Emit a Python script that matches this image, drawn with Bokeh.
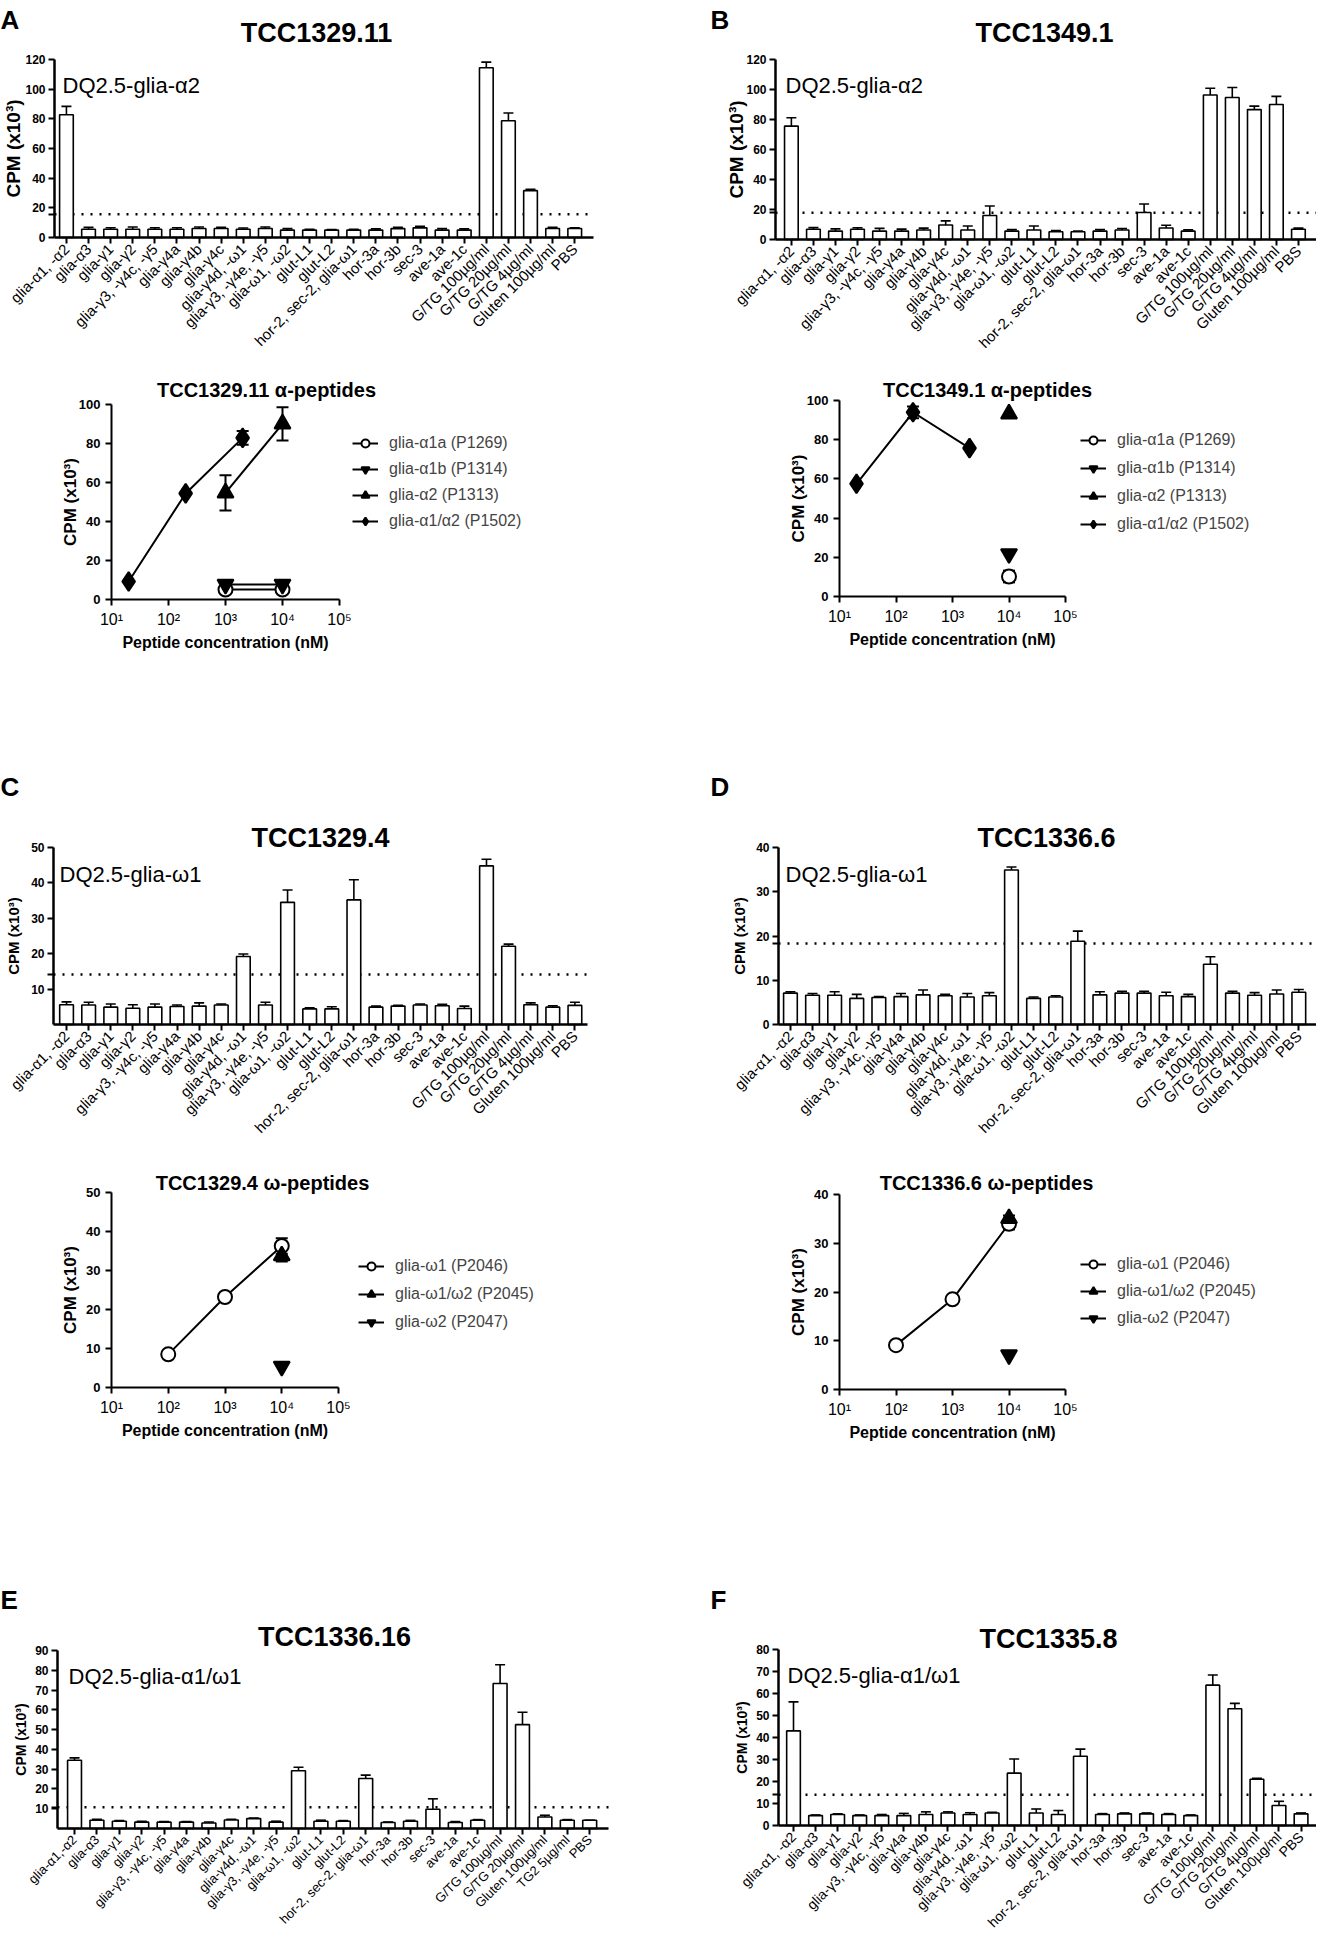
import math
from bokeh.plotting import figure
from bokeh.models import (Range1d, FixedTicker, Whisker, TeeHead, Label,
                          Legend, LegendItem, ColumnDataSource)
from bokeh.layouts import row, column
from bokeh.embed import file_html
from bokeh.resources import INLINE

FONT = "Liberation Sans"

# ---------------- data ----------------
CATS = ["glia-α1, -α2", "glia-α3", "glia-γ1", "glia-γ2", "glia-γ3, -γ4c, -γ5",
        "glia-γ4a", "glia-γ4b", "glia-γ4c", "glia-γ4d, -ω1", "glia-γ3, -γ4e, -γ5",
        "glia-ω1, -ω2", "glut-L1", "glut-L2", "hor-2, sec-2, glia-ω1", "hor-3a",
        "hor-3b", "sec-3", "ave-1a", "ave-1c", "G/TG 100µg/ml", "G/TG 20µg/ml",
        "G/TG 4µg/ml", "Gluten 100µg/ml", "PBS"]
CATS_E = ["glia-α1,-α2", "glia-α3", "glia-γ1", "glia-γ2", "glia-γ3, -γ4c, -γ5",
          "glia-γ4a", "glia-γ4b", "glia-γ4c", "glia-γ4d, -ω1", "glia-γ3, -γ4e, -γ5",
          "glia-ω1, -ω2", "glut-L1", "glut-L2", "hor-2, sec-2, glia-ω1", "hor-3a",
          "hor-3b", "sec-3", "ave-1a", "ave-1c", "G/TG 100µg/ml", "G/TG 20µg/ml",
          "Gluten 100µg/ml", "TG2 5µg/ml", "PBS"]

A_vals = [82.8, 5.6, 5.6, 5.6, 5.6, 5.6, 6.1, 6.1, 5.6, 6.1, 5.0, 5.0, 5.0, 5.0, 5.0, 6.0, 6.5, 5.0, 5.0, 114.4, 78.7, 31.6, 6.1, 6.1]
A_err = [5.6, 1.2, 1.0, 1.5, 1.0, 1.0, 1.0, 0.8, 0.8, 1.0, 1.0, 0.5, 0.3, 0.5, 0.8, 0.8, 1.0, 1.0, 0.8, 3.8, 5.2, 0.9, 0.8, 0.5]
A_thr = 15.6

B_vals = [75.6, 6.8, 5.6, 6.8, 5.6, 5.6, 6.3, 9.7, 6.3, 16.0, 5.6, 6.3, 5.2, 5.2, 5.6, 6.3, 18.0, 7.7, 5.6, 96.3, 94.7, 86.6, 90.0, 6.8]
B_err = [5.6, 1.1, 1.5, 1.0, 1.8, 1.3, 1.3, 2.7, 2.7, 6.3, 1.0, 2.7, 0.8, 0.5, 1.0, 1.0, 5.7, 1.8, 0.8, 4.5, 6.6, 2.3, 5.4, 0.8]
B_thr = 17.8

C_vals = [5.6, 5.5, 4.9, 4.6, 4.9, 5.1, 5.2, 5.5, 19.2, 5.5, 34.5, 4.4, 4.4, 35.2, 4.9, 5.2, 5.5, 5.3, 4.5, 44.8, 22.1, 5.6, 4.9, 5.4]
C_err = [0.8, 0.8, 0.9, 1.0, 0.9, 0.4, 0.9, 0.3, 0.7, 0.8, 3.5, 0.3, 0.6, 5.7, 0.3, 0.2, 0.3, 0.4, 0.7, 1.9, 0.6, 0.5, 0.4, 0.9]
C_thr = 14.1

D_vals = [7.1, 6.6, 6.6, 5.9, 6.1, 6.3, 6.7, 6.5, 6.2, 6.5, 34.9, 5.9, 6.2, 18.8, 6.7, 7.1, 7.1, 6.5, 6.3, 13.6, 7.1, 6.6, 6.9, 7.3]
D_err = [0.3, 0.4, 0.8, 0.9, 0.2, 0.7, 1.1, 0.3, 0.8, 0.7, 0.7, 0.3, 0.3, 2.3, 0.7, 0.4, 0.4, 0.8, 0.5, 1.7, 0.4, 0.6, 0.9, 0.6]
D_thr = 18.3

E_vals = [34.5, 4.2, 3.7, 3.2, 3.2, 3.2, 2.8, 4.3, 5.0, 3.2, 29.2, 3.7, 3.7, 25.3, 3.0, 3.7, 9.7, 3.0, 4.2, 73.3, 52.5, 5.8, 4.2, 4.2]
E_err = [1.2, 0.4, 0.3, 0.5, 0.3, 0.3, 0.5, 0.3, 0.3, 0.5, 1.8, 0.5, 0.3, 1.7, 0.3, 0.4, 5.3, 0.5, 0.3, 9.5, 6.3, 0.9, 0.3, 0.0]
E_thr = 10.7

F_vals = [43.0, 4.5, 5.0, 4.5, 4.5, 4.5, 5.0, 5.7, 5.0, 5.7, 23.8, 5.7, 5.0, 31.5, 5.0, 5.3, 5.3, 5.0, 4.5, 63.8, 53.1, 21.0, 9.1, 5.3]
F_err = [13.2, 0.3, 0.3, 0.3, 0.5, 1.0, 1.2, 0.5, 0.8, 0.3, 6.4, 1.8, 1.8, 3.2, 0.4, 0.4, 0.4, 0.4, 0.3, 4.6, 2.4, 0.4, 1.9, 0.4]
F_thr = 14.0

# dose-response panels (concentration nM, CPM x10^3, SEM)
LA_a1a_x, LA_a1a_y, LA_a1a_e = [1000, 10000], [5.1, 5.1], [0, 0]
LA_a1b_x, LA_a1b_y, LA_a1b_e = [1000, 10000], [7.7, 7.7], [0, 0]
LA_a2_x, LA_a2_y, LA_a2_e = [1000, 10000], [54.7, 90.1], [9.0, 8.5]
LA_a12_x, LA_a12_y, LA_a12_e = [20, 200, 2000], [9.2, 54.4, 82.9], [0, 0, 3.5]

LB_a1a_x, LB_a1a_y, LB_a1a_e = [10000], [10.2], [3.0]
LB_a1b_x, LB_a1b_y, LB_a1b_e = [10000], [21.8], [0]
LB_a2_x, LB_a2_y, LB_a2_e = [10000], [93.2], [0]
LB_a12_x, LB_a12_y, LB_a12_e = [20, 200, 2000], [57.5, 94.0, 75.7], [0, 3.0, 0]

LC_w1_x, LC_w1_y, LC_w1_e = [100, 1000, 10000], [8.5, 23.2, 36.3], [0, 0, 2.0]
LC_w12_x, LC_w12_y, LC_w12_e = [10000], [33.8], [1.5]
LC_w2_x, LC_w2_y, LC_w2_e = [10000], [5.4], [0]

LD_w1_x, LD_w1_y, LD_w1_e = [100, 1000, 10000], [9.1, 18.5, 34.0], [0, 0, 1.2]
LD_w12_x, LD_w12_y, LD_w12_e = [10000], [35.1], [0.6]
LD_w2_x, LD_w2_y, LD_w2_e = [10000], [7.1], [0]

LOG_TICKS = [10, 100, 1000, 10000, 100000]
LOG_LABELS = ["10¹", "10²", "10³", "10⁴", "10⁵"]
Y_LABEL = "CPM (x10³)"
X_LABEL = "Peptide concentration (nM)"


def ranges(ox, oy, w, h, fl, fr, ft, fb, x0, x1, y0, y1):
    """Data ranges so that the whole canvas is the frame and the axes sit at fl..fr / fb..ft."""
    kx = (x1 - x0) / (fr - fl)
    ky = (y1 - y0) / (fb - ft)
    xr = (x0 - (fl - ox) * kx, x1 + (ox + w - fr) * kx)
    yr = (y0 - (oy + h - fb) * ky, y1 + (ft - oy) * ky)
    return xr, yr


class Panel:
    def __init__(self, ox, oy, w, h, **kw):
        self.ox, self.oy, self.w, self.h = ox, oy, w, h
        self.p = figure(width=w, height=h, output_backend="svg", toolbar_location=None,
                        min_border=0, min_border_left=0, min_border_right=0,
                        min_border_top=0, min_border_bottom=0, **kw)
        p = self.p
        p.outline_line_color = None
        p.grid.visible = False
        p.background_fill_color = "white"
        p.border_fill_color = "white"
        for ax in p.axis:
            ax.axis_line_color = "black"
            ax.major_tick_line_color = "black"
            ax.minor_tick_line_color = None
            ax.major_tick_in = 0
            ax.major_tick_out = 6
            ax.major_label_text_font = FONT
            ax.major_label_text_color = "black"
            ax.axis_label = None

    def text(self, ax, ay, text, size, style="normal", align="left", baseline="alphabetic", angle=0.0):
        self.p.add_layout(Label(x=ax - self.ox, y=self.oy + self.h - ay,
                                x_units="screen", y_units="screen", angle=angle,
                                text=text, text_font=FONT, text_font_size=f"{size}px",
                                text_font_style=style, text_align=align,
                                text_baseline=baseline, text_color="black"))


def bar_panel(ox, oy, w, h, fl, fr, ft, fb, xb, ymax, yticks, cats, vals, errs, thr,
              title, tcx, tcy, letter, lx, ly, dq, dqx, dqy, ylx, ylsize, xlsize=15):
    xr, yr = ranges(ox, oy, w, h, fl, fr, ft, fb, xb[0], xb[1], 0, ymax)
    P = Panel(ox, oy, w, h, x_range=Range1d(*xr), y_range=Range1d(*yr))
    p = P.p
    xs = list(range(len(cats)))
    # threshold (dotted) line across the axis extent
    p.segment(x0=[xb[0]], x1=[xb[1]], y0=[thr], y1=[thr], line_color="black",
              line_width=2.5, line_dash="2 7", level="underlay")
    src = ColumnDataSource(dict(x=xs, top=vals, up=[v + e for v, e in zip(vals, errs)]))
    p.add_layout(Whisker(source=src, base="x", lower="top", upper="up", dimension="height",
                         line_color="black", line_width=1.6,
                         upper_head=TeeHead(size=10, line_color="black", line_width=1.6),
                         lower_head=None))
    p.vbar(x="x", top="top", width=0.62, source=src, fill_color="white",
           line_color="black", line_width=1.6)
    p.xaxis.fixed_location = 0
    p.xaxis.bounds = (xb[0], xb[1])
    p.xaxis.ticker = FixedTicker(ticks=xs)
    p.xaxis.major_label_overrides = {i: c for i, c in enumerate(cats)}
    p.xaxis.major_label_orientation = math.pi / 4
    p.xaxis.major_label_text_font_size = f"{xlsize}px"
    p.xaxis.major_label_standoff = 3
    p.yaxis.fixed_location = xb[0]
    p.yaxis.bounds = (0, ymax)
    p.yaxis.ticker = FixedTicker(ticks=list(yticks) + [thr])
    p.yaxis.major_label_overrides = {thr: ""}
    p.yaxis.major_label_text_font_size = "12px"
    p.yaxis.major_label_text_font_style = "bold"
    p.yaxis.major_label_standoff = 3
    for ax in p.axis:
        ax.axis_line_width = 2.5
        ax.major_tick_line_width = 2
    P.text(ylx, (ft + fb) / 2, Y_LABEL, ylsize, "bold", "center", "middle", math.pi / 2)
    P.text(tcx, tcy, title, 27, "bold", "center", "alphabetic")
    P.text(lx, ly, letter, 26, "bold", "left", "alphabetic")
    P.text(dqx, dqy, dq, 22, "normal", "left", "alphabetic")
    return p


MARKER_SIZE = {"circle": 14, "inverted_triangle": 16, "triangle": 16, "diamond": 19}


def line_panel(ox, oy, w, h, fl, fr, ft, fb, ymax, yticks, series, title, tcx, tcy,
               leg_x, leg_y, leg_spacing):
    xr, yr = ranges(ox, oy, w, h, fl, fr, ft, fb, 1.0, 5.0, 0, ymax)
    P = Panel(ox, oy, w, h, x_axis_type="log",
              x_range=Range1d(10 ** xr[0], 10 ** xr[1]), y_range=Range1d(*yr))
    p = P.p
    items = []
    for name, marker, xs, ys, es in series:
        src = ColumnDataSource(dict(x=xs, y=ys))
        lr = p.line("x", "y", source=src, line_color="black", line_width=2)
        ex = [x for x, e in zip(xs, es) if e > 0]
        if ex:
            esrc = ColumnDataSource(dict(
                x=ex,
                lo=[y - e for y, e in zip(ys, es) if e > 0],
                hi=[y + e for y, e in zip(ys, es) if e > 0]))
            p.add_layout(Whisker(source=esrc, base="x", lower="lo", upper="hi",
                                 dimension="height", line_color="black", line_width=2,
                                 upper_head=TeeHead(size=12, line_color="black", line_width=2),
                                 lower_head=TeeHead(size=12, line_color="black", line_width=2)))
        sr = p.scatter("x", "y", source=src, marker=marker, size=MARKER_SIZE[marker],
                       fill_color="white" if marker == "circle" else "black",
                       line_color="black", line_width=2)
        items.append(LegendItem(label=name, renderers=[lr, sr]))
    leg = Legend(items=items, location=(leg_x, leg_y), label_text_font=FONT,
                 label_text_font_size="16px", glyph_width=26, glyph_height=20,
                 label_height=20, spacing=leg_spacing, padding=0, margin=0,
                 label_standoff=11, border_line_color=None, background_fill_alpha=0)
    p.add_layout(leg)
    p.xaxis.fixed_location = 0
    p.xaxis.bounds = (10, 100000)
    p.xaxis.ticker = FixedTicker(ticks=LOG_TICKS, minor_ticks=[])
    p.xaxis.major_label_overrides = {t: l for t, l in zip(LOG_TICKS, LOG_LABELS)}
    p.xaxis.major_label_text_font_size = "16px"
    p.yaxis.fixed_location = 10
    p.yaxis.bounds = (0, ymax)
    p.yaxis.ticker = FixedTicker(ticks=yticks)
    p.yaxis.major_label_text_font_size = "13px"
    p.yaxis.major_label_text_font_style = "bold"
    for ax in p.axis:
        ax.axis_line_width = 2
        ax.major_tick_line_width = 2
    P.text(fl - 41, (ft + fb) / 2, Y_LABEL, 17, "bold", "center", "middle", math.pi / 2)
    P.text((fl + fr) / 2, fb + 43, X_LABEL, 16, "bold", "center", "middle")
    P.text(tcx, tcy, title, 20, "bold", "center", "alphabetic")
    return p


W = 658
# Row 1: bar panels A, B   (row spans y 8..360)
pA = bar_panel(8, 8, W, 352, 62, 601, 67, 245, (-0.54, 23.85), 120, [0, 20, 40, 60, 80, 100, 120],
               CATS, A_vals, A_err, A_thr, "TCC1329.11", 324, 40, "A", 8, 27,
               "DQ2.5-glia-α2", 70, 93, 21, 19)
pB = bar_panel(666, 8, W, 352, 783, 1324, 67, 247, (-0.72, 23.82), 120, [0, 20, 40, 60, 80, 100, 120],
               CATS, B_vals, B_err, B_thr, "TCC1349.1", 1052, 40, "B", 718, 27,
               "DQ2.5-glia-α2", 793, 93, 744, 19)

# Row 2: dose response A, B   (y 360..770)
alpha_A = [("glia-α1a (P1269)", "circle", LA_a1a_x, LA_a1a_y, LA_a1a_e),
           ("glia-α1b (P1314)", "inverted_triangle", LA_a1b_x, LA_a1b_y, LA_a1b_e),
           ("glia-α2 (P1313)", "triangle", LA_a2_x, LA_a2_y, LA_a2_e),
           ("glia-α1/α2 (P1502)", "diamond", LA_a12_x, LA_a12_y, LA_a12_e)]
alpha_B = [("glia-α1a (P1269)", "circle", LB_a1a_x, LB_a1a_y, LB_a1a_e),
           ("glia-α1b (P1314)", "inverted_triangle", LB_a1b_x, LB_a1b_y, LB_a1b_e),
           ("glia-α2 (P1313)", "triangle", LB_a2_x, LB_a2_y, LB_a2_e),
           ("glia-α1/α2 (P1502)", "diamond", LB_a12_x, LB_a12_y, LB_a12_e)]
pAl = line_panel(8, 360, W, 410, 119, 347, 412, 607, 100, [0, 20, 40, 60, 80, 100], alpha_A,
                 "TCC1329.11 α-peptides", 274, 397, 352, 231, 6)
pBl = line_panel(666, 360, W, 410, 847, 1073, 408, 604, 100, [0, 20, 40, 60, 80, 100], alpha_B,
                 "TCC1349.1 α-peptides", 995, 397, 422, 228, 8)

# Row 3: bar panels C, D   (y 770..1150)
pC = bar_panel(8, 770, W, 380, 61, 595, 855, 1032, (-0.59, 23.57), 50, [10, 20, 30, 40, 50],
               CATS, C_vals, C_err, C_thr, "TCC1329.4", 328, 845, "C", 8, 794,
               "DQ2.5-glia-ω1", 67, 882, 21, 15)
pD = bar_panel(666, 770, W, 380, 786, 1324, 855, 1032, (-0.54, 23.8), 40, [0, 10, 20, 30, 40],
               CATS, D_vals, D_err, D_thr, "TCC1336.6", 1054, 845, "D", 718, 794,
               "DQ2.5-glia-ω1", 793, 882, 747, 15)

# Row 4: dose response C, D   (y 1150..1560)
omega_C = [("glia-ω1 (P2046)", "circle", LC_w1_x, LC_w1_y, LC_w1_e),
           ("glia-ω1/ω2 (P2045)", "triangle", LC_w12_x, LC_w12_y, LC_w12_e),
           ("glia-ω2 (P2047)", "inverted_triangle", LC_w2_x, LC_w2_y, LC_w2_e)]
omega_D = [("glia-ω1 (P2046)", "circle", LD_w1_x, LD_w1_y, LD_w1_e),
           ("glia-ω1/ω2 (P2045)", "triangle", LD_w12_x, LD_w12_y, LD_w12_e),
           ("glia-ω2 (P2047)", "inverted_triangle", LD_w2_x, LD_w2_y, LD_w2_e)]
pCl = line_panel(8, 1150, W, 410, 119, 346, 1200, 1395, 50, [0, 10, 20, 30, 40, 50], omega_C,
                 "TCC1329.4 ω-peptides", 270, 1190, 358, 220, 8)
pDl = line_panel(666, 1150, W, 410, 847, 1073, 1202, 1397, 40, [0, 10, 20, 30, 40], omega_D,
                 "TCC1336.6 ω-peptides", 994, 1190, 422, 224, 7)

# Row 5: bar panels E, F   (y 1560..1946)
pE = bar_panel(8, 1560, W, 386, 65, 616, 1658, 1836, (-0.76, 23.84), 90,
               [10, 20, 30, 40, 50, 60, 70, 80, 90],
               CATS_E, E_vals, E_err, E_thr, "TCC1336.16", 342, 1644, "E", 8, 1607,
               "DQ2.5-glia-α1/ω1", 76, 1684, 28, 14, 13)
pF = bar_panel(666, 1560, W, 386, 786, 1324, 1657, 1833, (-0.68, 23.7), 80,
               [0, 10, 20, 30, 40, 50, 60, 70, 80],
               CATS, F_vals, F_err, F_thr, "TCC1335.8", 1056, 1646, "F", 718, 1607,
               "DQ2.5-glia-α1/ω1", 795, 1683, 749, 14, 14)

layout = column(row(pA, pB, spacing=0), row(pAl, pBl, spacing=0), row(pC, pD, spacing=0),
                row(pCl, pDl, spacing=0), row(pE, pF, spacing=0), spacing=0)

open("out.html", "w").write(file_html(layout, INLINE))
